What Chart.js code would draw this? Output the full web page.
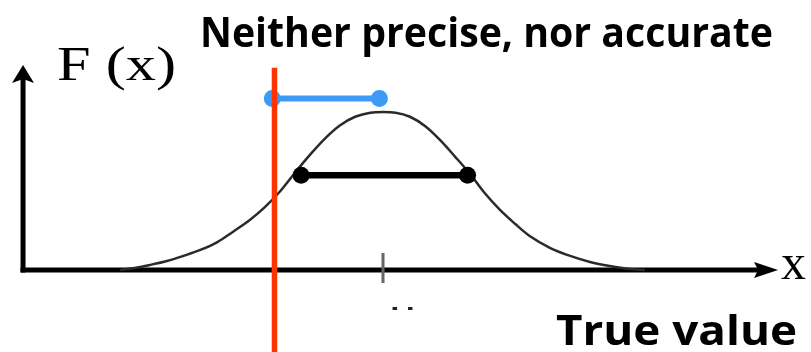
<!DOCTYPE html>
<html>
<head>
<meta charset="utf-8">
<script src="https://cdn.jsdelivr.net/npm/chart.js@4/dist/chart.umd.min.js"></script>
<style>
  html, body { margin: 0; padding: 0; background: #ffffff; }
  #wrap { width: 811px; height: 352px; }
</style>
</head>
<body>
<div id="wrap"><canvas id="c" width="811" height="352"></canvas></div>
<script>
// ---- data (x in units of sigma from the mean, y = F(x) relative to the peak) ----
const curveX = [-2.92, -2.76, -2.59, -2.40, -2.22, -2.03, -1.84, -1.67, -1.48, -1.31, -1.14, -0.98, -0.81, -0.64, -0.48, -0.31, -0.14, 0.00, 0.14, 0.30, 0.47, 0.63, 0.80, 0.97, 1.13, 1.30, 1.47, 1.63, 1.86, 2.08, 2.30, 2.52, 2.74, 2.91];
const curveY = [0.000, 0.013, 0.032, 0.057, 0.089, 0.127, 0.177, 0.241, 0.316, 0.399, 0.500, 0.614, 0.730, 0.835, 0.915, 0.970, 0.996, 1.000, 0.996, 0.970, 0.910, 0.825, 0.718, 0.606, 0.487, 0.380, 0.291, 0.215, 0.139, 0.089, 0.051, 0.025, 0.006, 0.000];
const precisionX = [-0.91, 0.94];      // black bar (spread)
const precisionY = [0.60, 0.60];
const accuracyX = [-1.23, -0.04];      // blue bar (offset from mean)
const accuracyY = [1.085, 1.085];
const trueValueX = [-1.206, -1.206];   // red line
const trueValueY = [1.28, -0.60];
const meanTickX = [0.0, 0.0];
const meanTickY = [0.108, -0.082];

const titleText = "Neither precise, nor accurate";
const yLabel = "F (x)";
const xLabel = "x";
const trueLabel = "True value";
const meanLabel = "\u03BC";

// axis geometry in data units
const axisOriginX = -4.0;
const axisOriginY = 0.0;
const xAxisEnd = 4.39;
const yAxisEnd = 1.297;

const toPts = (xs, ys) => xs.map((x, i) => ({ x: x, y: ys[i] }));

function fitText(ctx, text, font, left, right, baseline) {
  ctx.save();
  ctx.font = font;
  const w = ctx.measureText(text).width;
  ctx.translate(left, baseline);
  ctx.scale((right - left) / w, 1);
  ctx.fillStyle = '#000';
  ctx.textBaseline = 'alphabetic';
  ctx.textAlign = 'left';
  ctx.fillText(text, 0, 0);
  ctx.restore();
}

const axesPlugin = {
  id: 'axesPlugin',
  beforeDatasetsDraw(chart) {
    const ctx = chart.ctx;
    const xs = chart.scales.x, ys = chart.scales.y;
    const ox = xs.getPixelForValue(axisOriginX);
    const oy = ys.getPixelForValue(axisOriginY);
    const xe = xs.getPixelForValue(xAxisEnd);
    const ye = ys.getPixelForValue(yAxisEnd);
    ctx.save();
    ctx.strokeStyle = '#000';
    ctx.fillStyle = '#000';
    ctx.lineWidth = 5;
    ctx.lineCap = 'butt';
    // x axis
    ctx.beginPath();
    ctx.moveTo(ox - 2.5, oy);
    ctx.lineTo(xe - 18, oy);
    ctx.stroke();
    ctx.beginPath();
    ctx.moveTo(xe, oy);
    ctx.lineTo(xe - 24, oy - 8);
    ctx.lineTo(xe - 20, oy);
    ctx.lineTo(xe - 24, oy + 8);
    ctx.closePath();
    ctx.fill();
    // y axis
    ctx.beginPath();
    ctx.moveTo(ox, oy + 2.5);
    ctx.lineTo(ox, ye + 14);
    ctx.stroke();
    ctx.beginPath();
    ctx.moveTo(ox, ye);
    ctx.lineTo(ox - 11, ye + 18);
    ctx.lineTo(ox, ye + 14);
    ctx.lineTo(ox + 11, ye + 18);
    ctx.closePath();
    ctx.fill();
    ctx.restore();
  },
  afterDraw(chart) {
    const ctx = chart.ctx;
    fitText(ctx, titleText, 'bold 42px "Open Sans"', 200, 773, 47);
    fitText(ctx, trueLabel, 'bold 41px "Open Sans"', 556, 797, 345);
    fitText(ctx, yLabel, '49px "Liberation Serif"', 57, 176, 80);
    fitText(ctx, xLabel, '50px "Liberation Serif"', 781, 806, 279);
    // partially hidden mean label under the tick
    const mx = chart.scales.x.getPixelForValue(0);
    ctx.save();
    ctx.beginPath();
    ctx.rect(mx - 10, 300, 60, 10);
    ctx.clip();
    ctx.font = '56px "Liberation Serif"';
    ctx.fillStyle = '#222';
    ctx.fillText(meanLabel, mx + 5, 333);
    ctx.restore();
  }
};

new Chart(document.getElementById('c'), {
  type: 'scatter',
  data: {
    datasets: [
      {
        label: 'True value',
        data: toPts(trueValueX, trueValueY),
        showLine: true,
        borderColor: '#ff3300',
        borderWidth: 5.5,
        pointRadius: 0,
        order: 0,
        clip: false
      },
      {
        label: 'Accuracy',
        data: toPts(accuracyX, accuracyY),
        showLine: true,
        borderColor: '#3d9bf5',
        backgroundColor: '#3d9bf5',
        borderWidth: 6,
        pointRadius: 8.5,
        pointBorderWidth: 0,
        pointBackgroundColor: '#3d9bf5',
        order: 1
      },
      {
        label: 'Precision',
        data: toPts(precisionX, precisionY),
        showLine: true,
        borderColor: '#000000',
        backgroundColor: '#000000',
        borderWidth: 6.5,
        pointRadius: 8.5,
        pointBorderWidth: 0,
        pointBackgroundColor: '#000000',
        order: 2
      },
      {
        label: 'Mean tick',
        data: toPts(meanTickX, meanTickY),
        showLine: true,
        borderColor: '#666666',
        borderWidth: 3,
        pointRadius: 0,
        order: 3
      },
      {
        label: 'F(x)',
        data: toPts(curveX, curveY),
        showLine: true,
        borderColor: '#2a2a2a',
        borderWidth: 2.5,
        pointRadius: 0,
        cubicInterpolationMode: 'monotone',
        order: 4
      }
    ]
  },
  options: {
    responsive: false,
    animation: false,
    events: [],
    layout: { padding: 0, autoPadding: false },
    plugins: {
      legend: { display: false },
      title: { display: false },
      tooltip: { enabled: false }
    },
    scales: {
      x: { type: 'linear', min: -4.256, max: 4.756, display: false },
      y: { type: 'linear', min: -0.519, max: 1.709, display: false }
    }
  },
  plugins: [axesPlugin]
});
</script>
</body>
</html>
